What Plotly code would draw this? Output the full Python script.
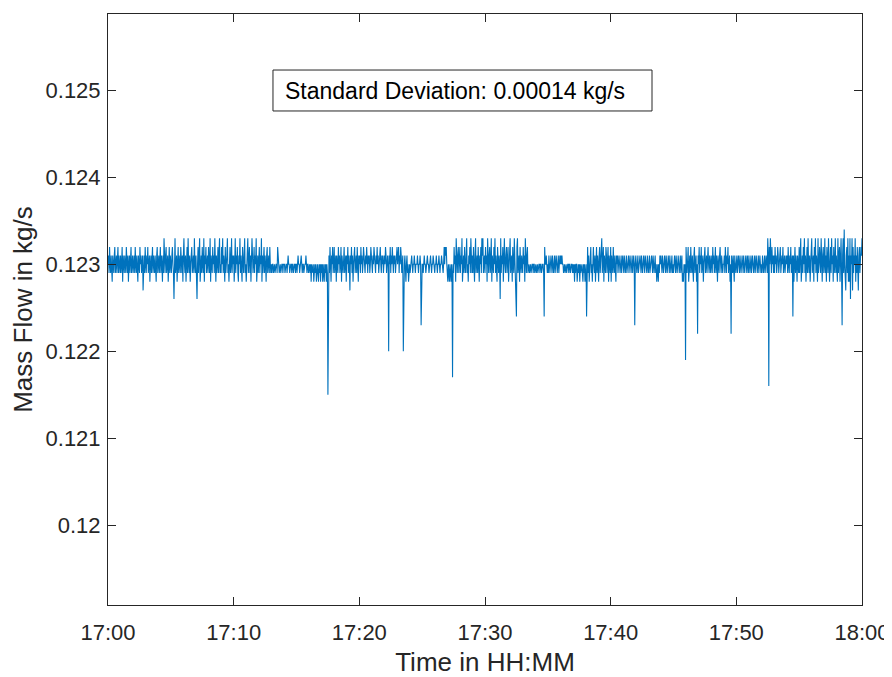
import pandas as pd
import plotly.graph_objects as go

# Mass flow deviations from 0.1230 kg/s, in units of 0.0001 kg/s,
# one row per minute (2.5 s samples, 24 per minute)
flow_offsets_1e4 = [
    [0, 1, -1, 2, 0, -1, 1, 0, -2, 1, 0, -1, 1, 2, -1, 0, 1, -1, 0, 2, -1, 1, 0, -1],
    [1, -1, 0, 2, -2, 1, 0, -1, 1, 0, -1, 2, 0, -1, 1, -2, 0, 1, -1, 0, 2, -1, 0, 1],
    [-1, 0, 1, -1, 2, 0, -1, 1, 0, -2, 1, 0, -1, 2, 0, 1, -1, 0, 1, -3, 0, 1, -1, 2],
    [0, -1, 1, 0, 2, -1, 0, 1, -2, 0, 1, -1, 0, 2, -1, 1, 0, -1, 1, 0, -2, 1, 2, -1],
    [0, 1, -1, 0, 2, -1, 1, 0, -2, 1, -1, 3, 0, -1, 1, 2, -1, 0, 1, -2, 0, 2, -1, 1],
    [0, -1, 1, 2, 0, -1, -4, 1, 3, -1, 0, 1, -2, 0, 2, -1, 1, 0, -1, 2, 0, -1, 1, -2],
    [1, 3, 0, -1, 1, -2, 0, 2, -1, 3, 0, -1, 1, -2, 0, 1, 2, -1, 0, 1, -1, 3, 0, -1],
    [1, -1, -4, 0, 2, -1, 1, 3, -2, 0, 1, -1, 2, 0, -1, 3, -2, 1, 0, 2, -1, 0, 1, -1],
    [2, 0, -1, 3, -2, 1, 0, -1, 2, 0, 1, -1, 3, 0, -2, 1, -1, 0, 2, -1, 1, 3, -1, 0],
    [-1, 2, 0, 3, -1, 1, 0, -2, 2, -1, 0, 1, 3, -1, 0, -2, 1, 2, -1, 0, 3, -1, 1, 0],
    [1, -2, 0, 3, -1, 1, 0, 2, -1, -2, 1, 0, 3, -1, 1, 0, -2, 2, 0, -1, 1, 3, -1, 0],
    [-2, 1, 0, 3, -1, 0, 2, -1, 1, -2, 0, 3, 1, -1, 0, 2, -1, 1, 0, 3, -2, 0, 1, -1],
    [0, 2, -1, 1, 0, 3, -2, 1, -1, 0, 2, -1, 1, 0, -2, 1, 2, -1, 0, 1, -1, 2, 0, -1],
    [0, -1, 0, 0, -1, 0, 0, -1, 0, 0, 0, -1, 2, 0, 0, -1, 0, 0, -1, 0, 0, 0, -1, 0],
    [0, 0, -1, 0, 0, 0, -1, 0, 1, 0, 0, -1, 0, 0, 0, -1, 0, 0, -1, 0, 0, 0, -1, 0],
    [0, -1, 0, 1, 0, 0, -1, 0, 0, 1, 0, -1, 0, 0, -1, 0, 0, 0, 1, 0, -1, 0, 0, -1],
    [0, 0, -1, 0, -2, 0, -1, 0, 0, -2, -1, 0, -1, 0, -2, 0, 0, -1, -2, 0, -1, 0, -2, 0],
    [-1, 0, -2, 0, -1, -2, 0, -1, 0, -2, 0, -1, -15, 0, 1, -1, 2, 0, -2, 1, 0, 2, -1, 0],
    [2, -1, 0, 1, -2, 1, 0, -1, 2, 0, 1, -1, 0, 2, -2, 1, 0, -1, 1, 2, -1, 0, 1, -2],
    [1, 0, 2, -1, 1, 0, -3, 1, 0, 2, -1, 1, -2, 0, 1, 2, -1, 0, 1, -1, 2, 0, -2, 1],
    [0, 1, -1, 2, 0, 1, -1, 0, 2, 1, 0, -1, 1, 0, 2, 0, -1, 1, 0, 1, -1, 0, 2, 1],
    [0, -1, 1, 0, 2, 1, 0, -1, 1, 0, 2, 0, 1, -1, 0, 1, 2, 0, -1, 1, 0, 1, -1, 0],
    [1, 0, 2, 1, -1, 0, 1, 0, -10, 1, 0, 2, -1, 1, 0, 2, 0, -1, 1, 0, 1, -1, 0, 1],
    [2, 0, 1, 2, -1, 1, 0, 2, 1, -1, 0, 1, -10, -2, 0, 1, -1, -2, 0, 1, -1, 0, -2, 0],
    [0, -1, 0, 0, 1, 0, -1, 0, 0, 1, 0, -1, 0, 0, 0, 1, 0, -1, 0, 0, 1, 0, -7, 0],
    [0, 0, -1, 0, 1, 0, 0, -1, 0, 0, 1, 0, 0, -1, 0, 0, 1, 0, -1, 0, 0, 1, 0, 0],
    [-1, 0, 0, 1, 0, -1, 0, 0, 1, 0, -1, 0, 0, 1, 0, 0, -1, 0, 2, 0, 2, 1, 2, 0],
    [-1, -2, 0, -1, -2, 0, -1, -2, 0, -1, -13, 0, -1, 2, 0, 1, -2, 3, 0, -1, 1, 2, -1, 0],
    [2, -1, 1, 0, 3, -2, 0, 1, -1, 2, 0, -1, 1, 3, -1, 0, -2, 1, 0, 2, -1, 3, 0, -1],
    [1, -1, 2, 0, -2, 1, 3, -1, 0, 1, -1, 2, 0, -2, 1, 0, 2, -1, 3, 1, 3, -1, 0, 1],
    [-1, 2, 0, 1, -2, 3, 0, -1, 1, 2, -1, 0, 3, -2, 1, 0, -1, 2, 0, 3, -1, 1, 0, -2],
    [2, 0, -1, 1, 0, -4, 3, -1, 1, 0, 2, -2, 1, 3, 0, -1, 1, 2, -1, 0, 2, -2, 1, 0],
    [3, -1, 0, 1, -2, 2, 0, -1, 3, 1, 0, -2, -6, 2, 3, -1, 0, 1, -2, 2, 0, -1, 1, 0],
    [-1, 2, 0, 1, -2, 3, 0, -1, 1, 2, -1, 0, 0, -1, 0, 0, -1, 0, 0, 0, -1, 0, 0, -1],
    [0, 0, -1, 0, 0, -1, 0, 0, 0, -1, 0, 0, -1, 0, 0, 0, -1, -6, 2, 0, 0, 1, 0, -1],
    [0, -1, 1, 0, -1, 0, 1, 0, -1, 1, 0, -1, 0, 1, -1, 0, 1, 0, -1, 0, 1, -1, 0, 1],
    [0, 1, 0, 1, 0, 0, -1, 0, 0, -1, 0, 0, -1, 0, 0, 0, -1, 0, 0, -1, 0, 0, 0, -1],
    [0, -1, 0, -2, 0, -1, 0, 0, -2, -1, 0, -1, 0, -2, 0, -1, 0, 0, -1, -2, 0, -1, 0, -2],
    [-1, 0, -6, 0, 2, -1, 1, -2, 0, 1, 2, -1, 0, -2, 1, 2, 0, -1, 1, -2, 0, 2, -1, 1],
    [0, -2, 1, 2, -1, 0, 1, 3, -1, 0, 2, -2, 1, 0, -1, 2, 1, -1, 0, 2, -2, 1, 0, -1],
    [2, -2, 1, 0, -1, 2, 0, -1, 1, 0, -2, 1, 0, 1, -1, 0, 1, 0, -1, 0, 1, -1, 0, 1],
    [0, -1, 1, 0, -1, 0, 1, -1, 0, 0, 1, -1, 0, 1, 0, -1, 0, 1, -1, 0, 1, 0, -7, 0],
    [1, 0, -1, 0, 1, -1, 0, 0, 1, 0, -1, 1, 0, -1, 0, 1, 0, -1, 1, 0, 0, -1, 1, 0],
    [-1, 0, 1, -1, 0, 0, 1, 0, -1, 1, 0, -1, 0, 1, -1, 0, -2, -1, 0, -2, 0, -1, 1, 0],
    [1, 0, -1, 1, 0, -1, 0, 1, 0, -1, 1, 0, -1, 0, 1, 0, -1, 1, 0, -1, 0, 1, -1, 0],
    [-1, 0, 1, 0, -1, 1, 0, -1, 0, 1, 0, -1, 0, 1, -1, 0, 1, -2, -1, -2, 0, -1, 0, -11],
    [2, 0, -1, 1, 2, -2, 0, 1, -1, 2, 0, -1, 1, 0, -2, 1, 2, -1, 0, 1, -2, 0, -8, 1],
    [0, 2, -1, 1, 0, 2, -1, 0, 1, -2, 0, 1, 2, -1, 0, 1, -1, 0, 2, 0, -1, 1, 0, -1],
    [1, 0, -1, 2, 0, 1, -1, 0, 2, -1, 1, 0, -2, 1, 0, -1, 1, 2, 0, -1, 1, 0, -1, 0],
    [0, 1, -1, 2, 0, -1, 1, 0, 2, -1, 0, 1, -2, 0, -8, 1, 0, -1, 1, 0, -2, 1, 0, -1],
    [0, 1, -1, 0, 1, 0, -1, 1, 0, -1, 0, 1, 0, -1, 1, 0, -1, 0, 1, 0, -1, 1, 0, -1],
    [1, 0, -1, 0, 1, -1, 0, 1, 0, -1, 0, 1, -1, 0, 1, 0, -1, 0, 1, -1, 0, 1, 0, -1],
    [0, -1, 1, 0, -1, 0, 1, -1, 0, 1, 0, -1, 3, 1, -14, 2, 0, 3, 1, -1, 2, 0, 1, -1],
    [1, -1, 2, 0, 1, -1, 0, 2, 1, -1, 0, 1, 2, -1, 0, 1, 0, 2, -1, 0, 1, -1, 0, 1],
    [0, 1, -1, 2, 0, -1, 1, 0, 2, -1, 0, 1, -6, 1, -2, 0, 2, -1, 1, 0, -2, 1, 0, -1],
    [2, -1, 1, 3, -2, 0, 1, -1, 2, 0, 3, -1, 1, -2, 0, 2, -1, 3, 0, -1, 1, -2, 0, 2],
    [3, -1, 0, 1, -2, 2, 0, 3, -1, 1, 0, -2, 3, -1, 0, 2, 1, -1, 3, 0, -2, 1, 2, -1],
    [0, 3, -1, 1, -2, 2, 0, -1, 3, 1, -2, 0, 2, -1, 3, 0, 1, -2, 2, -1, 0, 3, -1, 1],
    [0, -2, 3, -1, 1, 2, -2, 0, 3, -1, -7, 1, 3, -1, 4, 0, -2, -3, 1, 2, -1, 3, -2, 1],
    [-2, 3, -4, 1, 0, 3, -3, 2, -1, 1, 0, 3, -2, 1, -1, 2, 0, -3, 1, 2, -1, 0, 2, 1],
    [3],
]
base_flow = 0.1230          # kg/s
offset_unit = 0.0001        # kg/s
start_time = "2021-01-01 17:00:00"
sample_period = "2500ms"

x_tick_labels = ["17:00", "17:10", "17:20", "17:30", "17:40", "17:50", "18:00"]
y_tick_values = [0.120, 0.121, 0.122, 0.123, 0.124, 0.125]
y_tick_labels = ["0.12", "0.121", "0.122", "0.123", "0.124", "0.125"]
y_limits = [0.11908, 0.12588]
annotation_text = "Standard Deviation: 0.00014 kg/s"

flat = [v for row in flow_offsets_1e4 for v in row]
mass_flow = [base_flow + v * offset_unit for v in flat]
times = pd.date_range(start_time, periods=len(mass_flow), freq=sample_period)
tick_times = pd.date_range(start_time, periods=len(x_tick_labels), freq="10min")

axis_col = "#262626"
font_family = "Liberation Sans, Arial, Helvetica, sans-serif"

fig = go.Figure()
fig.add_trace(go.Scatter(x=times, y=mass_flow, mode="lines",
                         line=dict(color="#0072BD", width=1.1),
                         showlegend=False, hoverinfo="skip"))

# page body has an 8 px default margin, so the figure is 8 px smaller than the window
fig.update_layout(
    width=884, height=669,
    margin=dict(l=100, r=30, t=6, b=72),
    paper_bgcolor="white", plot_bgcolor="white",
    font=dict(family=font_family, color=axis_col, size=22),
)
fig.update_xaxes(
    automargin=False,
    range=[tick_times[0], tick_times[-1]],
    tickvals=tick_times, ticktext=x_tick_labels,
    showline=True, mirror="ticks", linecolor=axis_col, linewidth=1,
    ticks="inside", ticklen=8, tickcolor=axis_col, tickwidth=1,
    ticklabelstandoff=8,
    showgrid=False, zeroline=False,
    tickfont=dict(size=22, color=axis_col),
    title=dict(text="Time in HH:MM", font=dict(size=26, color=axis_col), standoff=8),
)
fig.update_yaxes(
    automargin=False,
    range=y_limits,
    tickvals=y_tick_values, ticktext=y_tick_labels,
    showline=True, mirror="ticks", linecolor=axis_col, linewidth=1,
    ticks="inside", ticklen=8, tickcolor=axis_col, tickwidth=1,
    ticklabelstandoff=2,
    showgrid=False, zeroline=False,
    tickfont=dict(size=22, color=axis_col),
    title=dict(text="Mass Flow in kg/s", font=dict(size=26, color=axis_col), standoff=8),
)

fig.add_shape(type="rect", xref="paper", yref="paper",
              x0=0.2188, x1=0.7215, y0=0.8359, y1=0.9052,
              line=dict(color=axis_col, width=1), fillcolor="white", layer="above")
fig.add_annotation(xref="paper", yref="paper", x=0.2325, y=0.8705,
                   xanchor="left", yanchor="middle", showarrow=False,
                   text=annotation_text, font=dict(size=23, color="black"))

fig.write_html("out.html")
